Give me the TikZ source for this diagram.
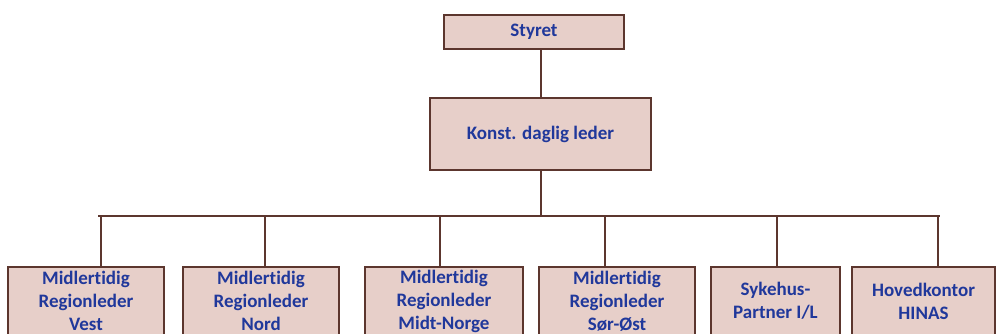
\documentclass[tikz,border=0pt]{standalone}
\usepackage{fontspec}
\setmainfont{Carlito}[Ligatures={NoCommon}]
\usetikzlibrary{positioning}
\definecolor{boxfill}{RGB}{231,207,201}
\definecolor{boxline}{RGB}{92,54,46}
\definecolor{boxtext}{RGB}{32,56,155}
\tikzset{
  basic/.style   = {draw=boxline, fill=boxfill, line width=1pt, rectangle,
                    font=\bfseries\fontsize{9.5}{11.5}\selectfont,
                    text=boxtext, align=center, inner sep=0pt},
  root/.style    = {basic, minimum width=90pt, minimum height=17pt},
  level 1/.style = {basic, minimum width=110.5pt, minimum height=36pt},
  level 2/.style = {basic, minimum height=34pt},
  conn/.style    = {draw=boxline, line width=1pt},
}

\begin{document}
\begin{tikzpicture}

\useasboundingbox (0,0) rectangle (498pt,166.5pt);
\clip (0,0) rectangle (498pt,166.5pt);

% styret og leder
\node[root] (s) at (267pt,150.5pt) {Styret};
\node[level 1] (k) at (270.25pt,99.5pt) {Konst. daglig leder};

% regioner og enheter
\node[level 2, minimum width=78pt] (c1) at (43pt,16pt) {Midlertidig\\Regionleder\\Vest};
\node[level 2, minimum width=78pt] (c2) at (130.5pt,16pt) {Midlertidig\\Regionleder\\Nord};
\node[level 2, minimum width=79pt] (c3) at (222pt,16pt) {Midlertidig\\Regionleder\\Midt-Norge};
\node[level 2, minimum width=78pt] (c4) at (308.5pt,16pt) {Midlertidig\\Regionleder\\Sør-Øst};
\node[level 2, minimum width=64.5pt] (c5) at (387.75pt,16pt) {Sykehus-\\Partner I/L};
\node[level 2, minimum width=71.5pt] (c6) at (461.75pt,16pt) {Hovedkontor\\HINAS};

% samleskinne
\coordinate (bl) at (49pt,58.5pt);
\coordinate (br) at (470pt,58.5pt);
\coordinate (b1) at (50.5pt,58.5pt);
\coordinate (b2) at (132.5pt,58.5pt);
\coordinate (b3) at (220pt,58.5pt);
\coordinate (b4) at (302.5pt,58.5pt);
\coordinate (b5) at (388.5pt,58.5pt);
\coordinate (b6) at (469pt,58.5pt);

\draw[conn] (k.north) -- (k.north |- s.south);
\draw[conn] (k.south) -- (k.south |- bl);
\draw[conn] (bl) -- (br);

\foreach \value in {1,...,6}
  \draw[conn] (b\value) -- (b\value |- c\value.north);

\end{tikzpicture}
\end{document}
